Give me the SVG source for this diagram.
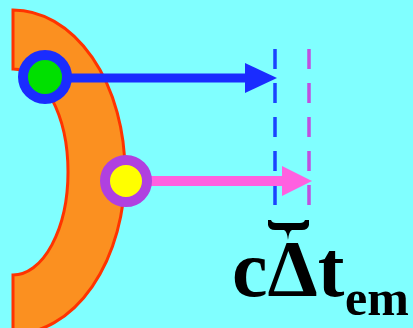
<svg xmlns="http://www.w3.org/2000/svg" width="413" height="328" viewBox="0 0 413 328">
<defs>
<style>
.dash{fill:none;stroke-width:3.5;stroke-dasharray:20 14}
.txt{font-family:"Liberation Serif","Times New Roman",serif;font-weight:bold;fill:#000}
</style>
</defs>
<rect width="413" height="328" fill="#80ffff"/>
<g id="crescent">
<path d="M13,10 A112,162 0 0 1 13,334 L13,275 A55,103 0 0 0 13,69 Z" fill="#fb9020" stroke="#ff3300" stroke-width="3"/>
</g>
<g id="guides">
<line class="dash" x1="275" y1="49" x2="275" y2="214" stroke="#1a44ff"/>
<line class="dash" x1="309" y1="49" x2="309" y2="214" stroke="#c050e0"/>
</g>
<g id="connectors">
<line x1="44" y1="78" x2="247" y2="78" stroke="#1a2cff" stroke-width="9"/>
<polygon points="245,63 277,78 245,93" fill="#1a2cff"/>
<line x1="126" y1="181" x2="284" y2="181" stroke="#ff60e0" stroke-width="10"/>
<polygon points="282,166 312,181 282,196" fill="#ff60e0"/>
</g>
<g id="node-green">
<circle cx="45" cy="77" r="22" fill="#00e000" stroke="#1a2cff" stroke-width="10"/>
</g>
<g id="node-yellow">
<circle cx="126" cy="181" r="21" fill="#ffff00" stroke="#b040e0" stroke-width="10"/>
</g>
<g id="label">
<path d="M268,220 L271,220 Q272,223 276,223 L300,223 Q304,223 305,220 L309,220 L309,225 Q308,230 302,230 L292,230 Q289,231 288,240 Q287,231 284,230 L275,230 Q269,230 268,225 Z" fill="#000"/>
<text class="txt" x="232" y="296" font-size="80">cΔt</text>
<text class="txt" x="345" y="315" font-size="50">em</text>
</g>
</svg>
